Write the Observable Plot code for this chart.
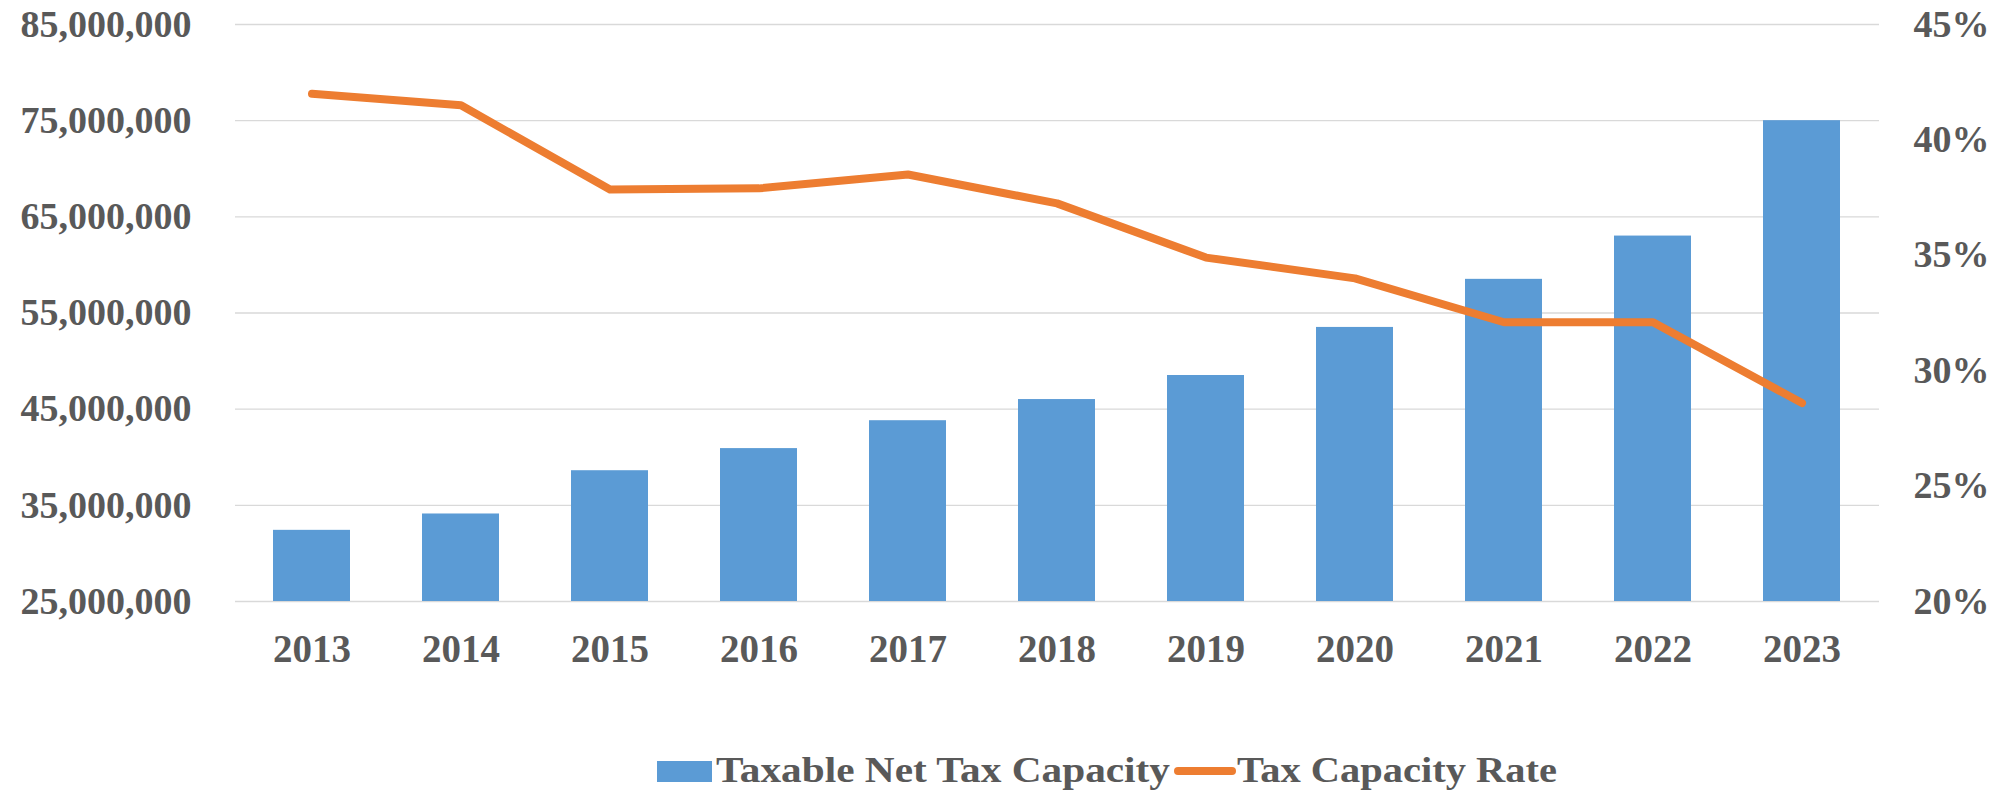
<!DOCTYPE html>
<html>
<head>
<meta charset="utf-8">
<script src="https://cdn.jsdelivr.net/npm/d3@7"></script>
<script src="https://cdn.jsdelivr.net/npm/@observablehq/plot@0.6"></script>
<style>
  html, body { margin: 0; padding: 0; background: #ffffff; }
  #chart svg { display: block; }
  #legend { display: block; }
</style>
</head>
<body>
<div id="chart"></div>
<svg id="legend" width="1995" height="96"></svg>
<script>
// ---- data ----
const years = ["2013","2014","2015","2016","2017","2018","2019","2020","2021","2022","2023"];
const netTaxCapacity = [32.4e6, 34.1e6, 38.6e6, 40.9e6, 43.8e6, 46.0e6, 48.5e6, 53.5e6, 58.5e6, 63.0e6, 75.0e6];
const taxCapacityRate = [42.0, 41.5, 37.85, 37.9, 38.5, 37.25, 34.9, 34.0, 32.1, 32.1, 28.6];
const leftTicks = [25e6, 35e6, 45e6, 55e6, 65e6, 75e6, 85e6];
const rightTicks = [20, 25, 30, 35, 40, 45];
const seriesNames = ["Taxable Net Tax Capacity", "Tax Capacity Rate"];
const barColor = "#5B9BD5";
const lineColor = "#ED7D31";

// secondary axis mapping: percent -> left-axis units
const toLeft = d3.scaleLinear([20, 45], [25e6, 85e6]);

const rows = years.map((year, i) => ({
  year,
  value: netTaxCapacity[i],
  rate: taxCapacityRate[i],
  rateLeft: toLeft(taxCapacityRate[i])
}));

const fontFamily = "'Liberation Serif', 'Times New Roman', serif";
const textColor = "#595959";

const chart = Plot.plot({
  width: 1995,
  height: 700,
  marginLeft: 235,
  marginRight: 116,
  marginTop: 24,
  marginBottom: 99,
  style: {
    fontFamily,
    fontSize: "38px",
    fontWeight: "bold",
    color: textColor,
    background: "#ffffff",
    overflow: "visible"
  },
  x: { domain: years, paddingInner: 0.48, paddingOuter: 0.24, label: null },
  y: { domain: [25e6, 85e6], label: null },
  marks: [
    Plot.gridY(leftTicks, { stroke: "#D9D9D9", strokeOpacity: 1, strokeWidth: 1.4 }),
    Plot.barY(rows, { x: "year", y1: 25e6, y2: "value", fill: barColor }),
    Plot.line(rows, {
      x: "year", y: "rateLeft", stroke: lineColor, strokeWidth: 8,
      strokeLinejoin: "round", strokeLinecap: "round"
    }),
    Plot.axisY({
      anchor: "left", ticks: leftTicks, tickSize: 0, tickPadding: 44,
      tickFormat: d => d3.format(",")(d), label: null, fill: textColor,
      fontSize: 38
    }),
    Plot.axisY({
      anchor: "right", ticks: rightTicks.map(p => toLeft(p)), tickSize: 0, tickPadding: 34,
      tickFormat: v => Math.round(toLeft.invert(v)) + "%", label: null, fill: textColor,
      fontSize: 38
    }),
    Plot.axisX({
      anchor: "bottom", tickSize: 0, tickPadding: 33, label: null, fill: textColor,
      fontSize: 39
    })
  ]
});
document.getElementById("chart").appendChild(chart);

// ---- legend below the chart ----
const legend = d3.select("#legend");
legend.append("rect")
  .attr("x", 657).attr("y", 61).attr("width", 55).attr("height", 21)
  .attr("fill", barColor);
legend.append("text")
  .attr("x", 716).attr("y", 82)
  .attr("textLength", 454).attr("lengthAdjust", "spacingAndGlyphs")
  .attr("font-family", fontFamily).attr("font-weight", "bold")
  .attr("font-size", 35).attr("fill", textColor)
  .text(seriesNames[0]);
legend.append("line")
  .attr("x1", 1178).attr("x2", 1232).attr("y1", 71).attr("y2", 71)
  .attr("stroke", lineColor).attr("stroke-width", 8).attr("stroke-linecap", "round");
legend.append("text")
  .attr("x", 1237).attr("y", 82)
  .attr("textLength", 320).attr("lengthAdjust", "spacingAndGlyphs")
  .attr("font-family", fontFamily).attr("font-weight", "bold")
  .attr("font-size", 35).attr("fill", textColor)
  .text(seriesNames[1]);
</script>
</body>
</html>
